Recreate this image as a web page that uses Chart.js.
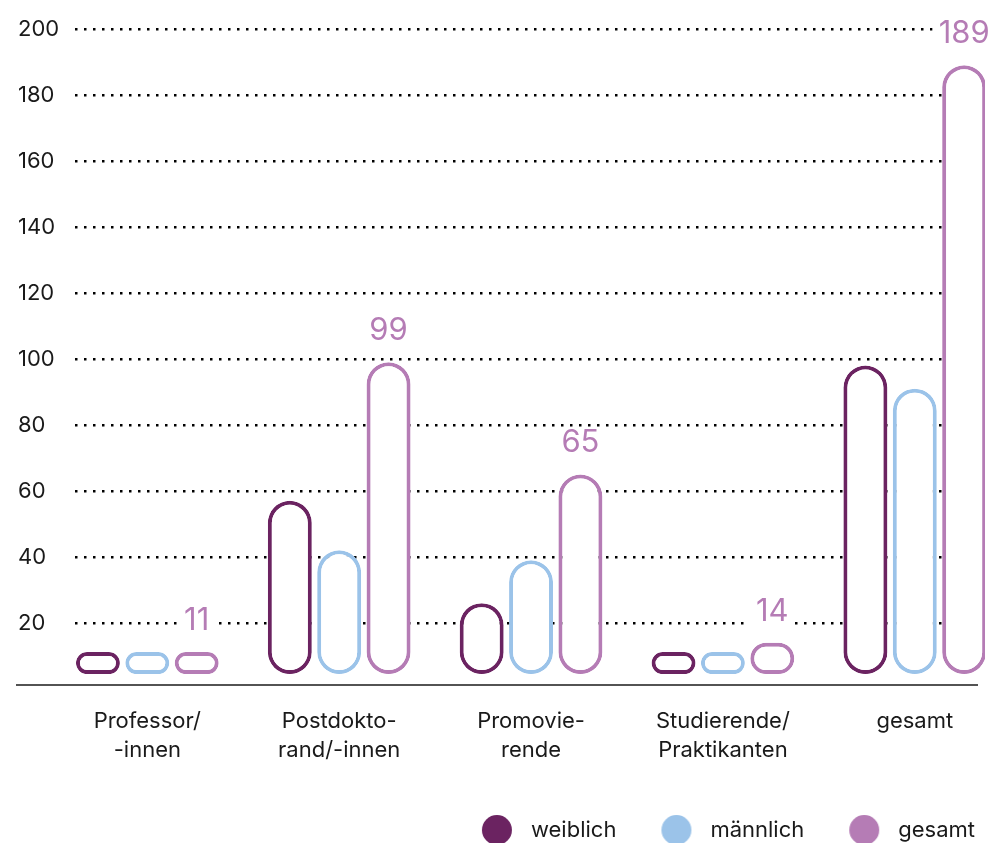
<!DOCTYPE html>
<html lang="de">
<head>
<meta charset="utf-8">
<title>Beschäftigte nach Geschlecht</title>
<script src="https://cdn.jsdelivr.net/npm/chart.js@4.4.1/dist/chart.umd.min.js"></script>
<style>
  html, body { margin: 0; padding: 0; background: #fff; overflow: hidden; }
  .chart-wrap { position: relative; width: 989px; height: 851px; }
</style>
</head>
<body>
<div class="chart-wrap"><canvas id="staffChart"></canvas></div>
<script>
// Gruppen (zweizeilige Beschriftung) und Werte je Geschlecht
const categories = [
  ['Professor/', '-innen'],
  ['Postdokto-', 'rand/-innen'],
  ['Promovie-', 'rende'],
  ['Studierende/', 'Praktikanten'],
  ['gesamt'],
];
const weiblich = [6, 57, 26, 8, 98];
const maennlich = [5, 42, 39, 6, 91];
const gesamt = [11, 99, 65, 14, 189];
const seriesNames = ['weiblich', 'männlich', 'gesamt'];
const yMax = 200;
const yStep = 20;

const COLORS = { weiblich: '#6b2361', maennlich: '#9bc3e9', gesamt: '#b57cb5' };
const TEXT = '#1a1a1a';
const FONT = "Inter, 'Noto Sans', sans-serif";

Chart.defaults.font.family = FONT;
Chart.defaults.color = TEXT;

const toPoints = (values) => values.map((v, i) => ({ x: i, y: v }));

const barStyle = (color) => ({
  backgroundColor: '#ffffff',
  borderColor: color,
  borderWidth: 4,
  borderRadius: 100,
  borderSkipped: false,
  base: 4.5,
  minBarLength: 22,
  barPercentage: 0.89,
  categoryPercentage: 0.772,
});

// Legendenpunkt: Kreis mit Freiraum davor (Abstand zum vorherigen Eintrag) und dahinter
const LEGEND_LEAD = 35;
const LEGEND_DOT = 30;
const LEGEND_TAIL = 8;
const legendDot = (color) => {
  const c = document.createElement('canvas');
  c.width = LEGEND_LEAD + LEGEND_DOT + LEGEND_TAIL;
  c.height = LEGEND_DOT;
  const g = c.getContext('2d');
  g.fillStyle = color;
  g.beginPath();
  g.arc(LEGEND_LEAD + LEGEND_DOT / 2, LEGEND_DOT / 2, LEGEND_DOT / 2, 0, Math.PI * 2);
  g.fill();
  return c;
};

// Grundlinie, die links bis unter die Achsenbeschriftung reicht
const baseline = {
  id: 'baseline',
  afterDraw(chart) {
    const { ctx, chartArea } = chart;
    ctx.save();
    ctx.strokeStyle = TEXT;
    ctx.lineWidth = 1.5;
    ctx.beginPath();
    ctx.moveTo(16, chartArea.bottom);
    ctx.lineTo(978, chartArea.bottom);
    ctx.stroke();
    ctx.restore();
  },
};

// Summenwerte über den "gesamt"-Balken
const totalLabels = {
  id: 'totalLabels',
  afterDatasetsDraw(chart) {
    const { ctx } = chart;
    const meta = chart.getDatasetMeta(2);
    ctx.save();
    ctx.font = `31px ${FONT}`;
    ctx.textAlign = 'center';
    ctx.textBaseline = 'bottom';
    meta.data.forEach((bar, i) => {
      const text = String(gesamt[i]);
      const w = ctx.measureText(text).width;
      const y = bar.y - 16;
      ctx.fillStyle = '#ffffff';
      ctx.fillRect(bar.x - w / 2 - 6, y - 30, w + 12, 32);
      ctx.fillStyle = COLORS.gesamt;
      ctx.fillText(text, bar.x, y);
    });
    ctx.restore();
  },
};

new Chart(document.getElementById('staffChart'), {
  type: 'bar',
  data: {
    datasets: [
      { label: seriesNames[0], data: toPoints(weiblich), ...barStyle(COLORS.weiblich) },
      { label: seriesNames[1], data: toPoints(maennlich), ...barStyle(COLORS.maennlich) },
      { label: seriesNames[2], data: toPoints(gesamt), ...barStyle(COLORS.gesamt) },
    ],
  },
  options: {
    responsive: true,
    maintainAspectRatio: false,
    animation: false,
    layout: { padding: { top: 29, left: 18, right: 4, bottom: 0 } },
    plugins: {
      tooltip: { enabled: false },
      legend: {
        position: 'bottom',
        align: 'end',
        labels: {
          usePointStyle: true,
          pointStyleWidth: LEGEND_LEAD + LEGEND_DOT + LEGEND_TAIL,
          padding: 10,
          color: TEXT,
          font: { size: 22 },
          generateLabels: (chart) => Chart.defaults.plugins.legend.labels.generateLabels(chart)
            .map((item) => ({ ...item, pointStyle: legendDot(item.strokeStyle), lineWidth: 0 })),
        },
      },
    },
    scales: {
      x: {
        type: 'linear',
        min: -0.376,
        max: 4.366,
        offset: false,
        grid: { display: false },
        border: { display: false },
        afterFit: (scale) => { scale.height = 124; },
        ticks: {
          stepSize: 1,
          includeBounds: false,
          autoSkip: false,
          maxRotation: 0,
          padding: 13,
          color: TEXT,
          font: { size: 22, lineHeight: 1.36 },
          callback: (value) => categories[value],
        },
      },
      y: {
        min: 1.2,
        max: yMax,
        grid: { color: '#000000', lineWidth: 2.5, drawTicks: false },
        border: { display: false, dash: [2.5, 6.5] },
        ticks: {
          stepSize: yStep,
          includeBounds: false,
          crossAlign: 'far',
          padding: 8,
          color: TEXT,
          font: { size: 22 },
        },
      },
    },
  },
  plugins: [baseline, totalLabels],
});
</script>
</body>
</html>
